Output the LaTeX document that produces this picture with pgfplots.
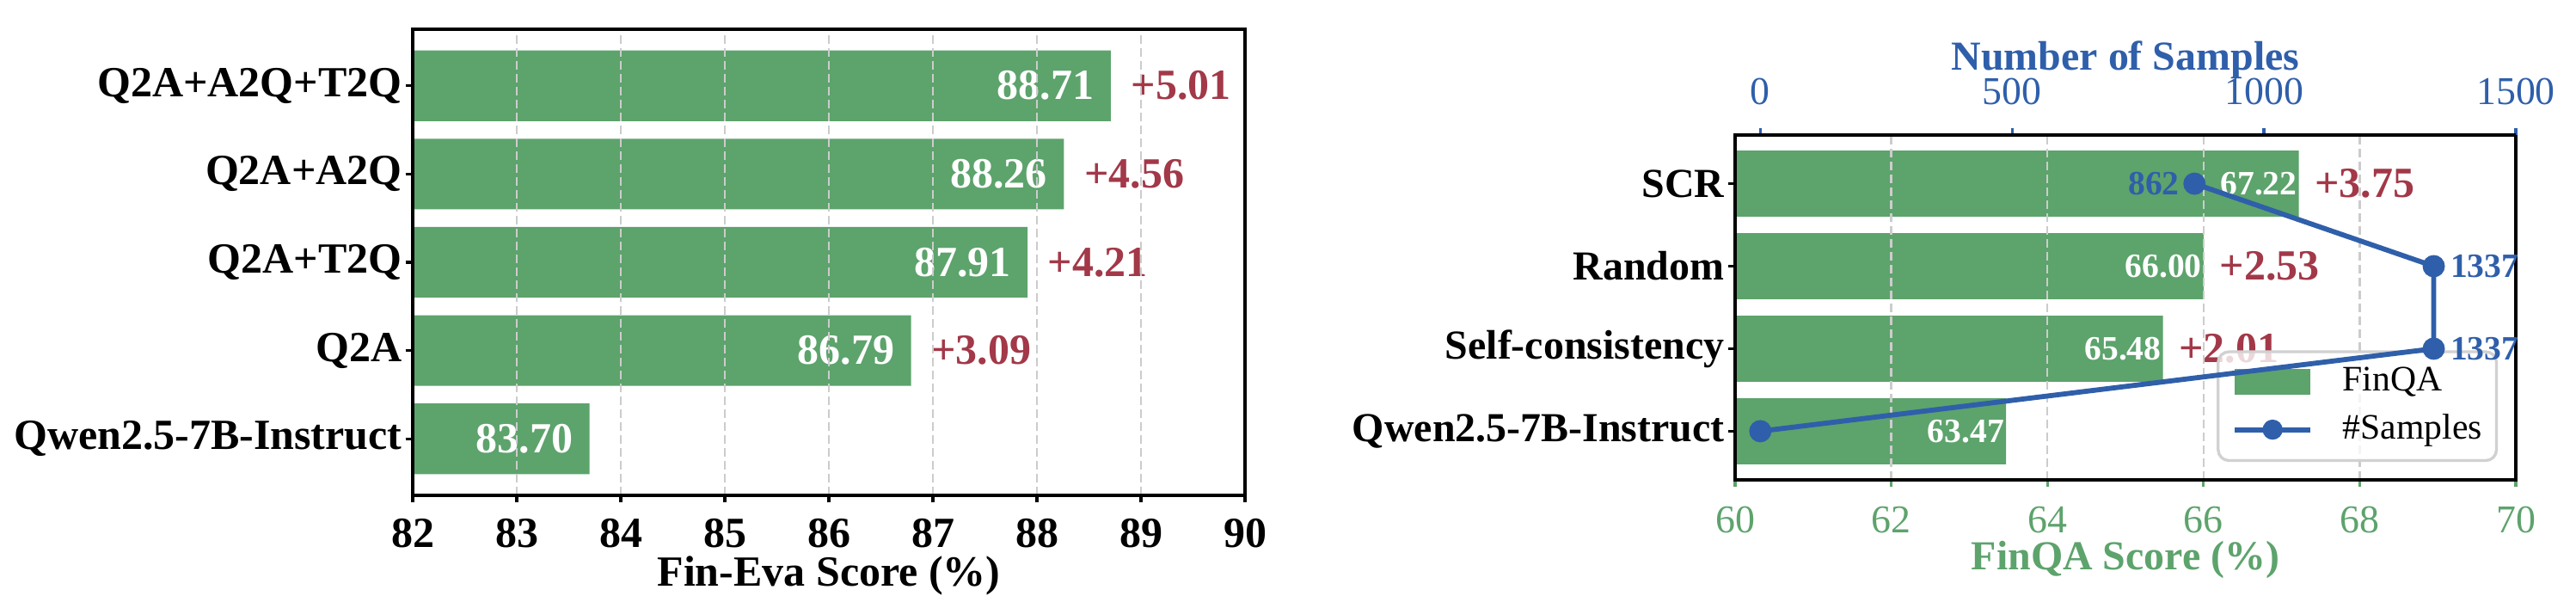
\documentclass[border=0pt]{standalone}
\usepackage{fontspec}
\setmainfont{Liberation Serif}
\usepackage{pgfplots}
\pgfplotsset{compat=1.18}
\definecolor{fqgreen}{HTML}{5DA36C}
\definecolor{fqred}{HTML}{A23848}
\definecolor{fqblue}{HTML}{2F5FAA}
\newcommand{\fsz}[1]{\fontsize{#1bp}{#1bp}\selectfont}
\tikzset{
  vlL/.style={anchor=east, inner sep=0pt, text=white, font=\bfseries\fsz{12}, xshift=-4.5bp},
  dlL/.style={anchor=west, inner sep=0pt, text=fqred, font=\bfseries\fsz{12}, xshift=5.5bp},
  vlR/.style={anchor=east, inner sep=0pt, text=white, font=\bfseries\fsz{9.5}, xshift=-0.3bp},
  dlR/.style={anchor=west, inner sep=0pt, text=fqred, font=\bfseries\fsz{12}, xshift=4.3bp},
  nlE/.style={anchor=east, inner sep=0pt, text=fqblue, font=\bfseries\fsz{9.5}, xshift=-4bp},
  nlW/.style={anchor=west, inner sep=0pt, text=fqblue, font=\bfseries\fsz{9.5}, xshift=4.5bp},
}
\pgfplotsset{
  mygrid/.style={xmajorgrids, major grid style={black!20, line width=0.55bp, dash pattern=on 2.4bp off 1.2bp}},
}
\begin{document}
\begin{tikzpicture}
\useasboundingbox (0,0) rectangle (719.04bp,168bp);

% ---------------- Left chart ----------------
\begin{axis}[
  at={(115.2bp,29.76bp)}, anchor=south west, scale only axis,
  width=232.32bp, height=130.08bp,
  xmin=82, xmax=90, ymin=-0.64, ymax=4.64,
  xtick={82,83,...,90}, ytick={0,1,2,3,4},
  yticklabels={Qwen2.5-7B-Instruct,Q2A,Q2A+T2Q,Q2A+A2Q,Q2A+A2Q+T2Q},
  xbar, bar width=0.8,
  mygrid, axis on top, clip=false,
  tick align=outside, xtick pos=lower, ytick pos=left,
  major tick length=2bp, major tick style={line width=0.8bp, black},
  axis line style={line width=0.8bp},
  /pgf/number format/assume math mode=true,
  ticklabel style={font=\bfseries\fsz{12}},
  xticklabel style={anchor=base, yshift=-12.5bp, inner sep=0pt},
  yticklabel style={inner sep=0pt, xshift=-0.8bp},
  xlabel={Fin-Eva Score (\%)},
  xlabel style={at={(axis description cs:0.5,0)}, anchor=base, yshift=-25.2bp, font=\bfseries\fsz{12}, inner sep=0pt},
]
\addplot[fill=fqgreen, draw=none] coordinates {(83.70,0) (86.79,1) (87.91,2) (88.26,3) (88.71,4)};
\node[vlL] at (axis cs:83.70,0) {83.70};
\node[vlL] at (axis cs:86.79,1) {86.79};
\node[vlL] at (axis cs:87.91,2) {87.91};
\node[vlL] at (axis cs:88.26,3) {88.26};
\node[vlL] at (axis cs:88.71,4) {88.71};
\node[dlL] at (axis cs:86.79,1) {+3.09};
\node[dlL] at (axis cs:87.91,2) {+4.21};
\node[dlL] at (axis cs:88.26,3) {+4.56};
\node[dlL] at (axis cs:88.71,4) {+5.01};
\end{axis}

% ---------------- Right chart (bars) ----------------
\begin{axis}[
  at={(484.32bp,34.08bp)}, anchor=south west, scale only axis,
  width=217.92bp, height=96.24bp,
  xmin=60, xmax=70, ymin=-0.59, ymax=3.59,
  xtick={60,62,...,70}, ytick={0,1,2,3},
  yticklabels={Qwen2.5-7B-Instruct,Self-consistency,Random,SCR},
  xbar, bar width=0.8,
  mygrid, axis on top, clip=false,
  tick align=outside, xtick pos=lower, ytick pos=left,
  major tick length=2bp,
  x tick style={line width=0.8bp, fqgreen},
  y tick style={line width=0.8bp, black},
  axis line style={line width=0.8bp},
  /pgf/number format/assume math mode=true,
  xticklabel style={text=fqgreen, font=\fsz{11}, anchor=base, yshift=-12.7bp, inner sep=0pt},
  yticklabel style={font=\bfseries\fsz{11.5}, inner sep=0pt, xshift=-0.8bp},
  xlabel={FinQA Score (\%)},
  xlabel style={at={(axis description cs:0.5,0)}, anchor=base, yshift=-25bp, font=\bfseries\fsz{11.5}, text=fqgreen, inner sep=0pt},
  legend style={at={(axis description cs:1,0)}, anchor=south east, xshift=-5bp, yshift=5bp,
    draw=black!18, line width=0.8bp, rounded corners=3bp, fill=white, fill opacity=0.8, text opacity=1,
    font=\fsz{10}, inner xsep=4bp, inner ysep=4.4bp, row sep=5bp, column sep=8.4bp,
    nodes={inner sep=0pt}},
  legend cell align=left,
]
\addplot[fill=fqgreen, draw=none,
  legend image code/.code={\fill[fqgreen, fill opacity=1, sharp corners] (0bp,-3.6bp) rectangle (21bp,3.6bp);}]
  coordinates {(63.47,0) (65.48,1) (66.00,2) (67.22,3)};
\addlegendentry{FinQA}
\node[vlR] at (axis cs:63.47,0) {63.47};
\node[vlR] at (axis cs:65.48,1) {65.48};
\node[vlR] at (axis cs:66.00,2) {66.00};
\node[vlR] at (axis cs:67.22,3) {67.22};
\node[dlR] at (axis cs:65.48,1) {+2.01};
\node[dlR] at (axis cs:66.00,2) {+2.53};
\node[dlR] at (axis cs:67.22,3) {+3.75};
\addlegendimage{legend image code/.code={\draw[fqblue, line width=1.4bp, draw opacity=1, sharp corners] (0bp,0bp) -- (21bp,0bp); \fill[fqblue, fill opacity=1] (10.5bp,0bp) circle (2.4bp);}}
\addlegendentry{\#Samples}
\end{axis}

% ---------------- Right chart (twin axis: samples) ----------------
\begin{axis}[
  at={(484.32bp,34.08bp)}, anchor=south west, scale only axis,
  width=217.92bp, height=96.24bp,
  xmin=-50, xmax=1500, ymin=-0.59, ymax=3.59,
  axis x line*=top, axis y line=none, clip=false,
  xtick={0,500,1000,1500},
  tick align=outside, major tick length=2bp,
  x tick style={line width=0.8bp, fqblue},
  axis line style={line width=0.8bp, black},
  /pgf/number format/assume math mode=true,
  /pgf/number format/1000 sep={},
  xticklabel style={text=fqblue, font=\fsz{11}, anchor=base, yshift=6.5bp, inner sep=0pt},
  xlabel={Number of Samples},
  xlabel style={at={(axis description cs:0.5,1)}, anchor=base, yshift=18.2bp, font=\bfseries\fsz{11.5}, text=fqblue, inner sep=0pt},
]
\addplot[fqblue, line width=1.4bp, mark=*, mark size=2.4bp, mark options={solid, fill=fqblue, draw=fqblue}]
  coordinates {(0,0) (1337,1) (1337,2) (862,3)};
\node[nlE] at (axis cs:862,3) {862};
\node[nlW] at (axis cs:1337,2) {1337};
\node[nlW] at (axis cs:1337,1) {1337};
\end{axis}
\end{tikzpicture}
\end{document}
